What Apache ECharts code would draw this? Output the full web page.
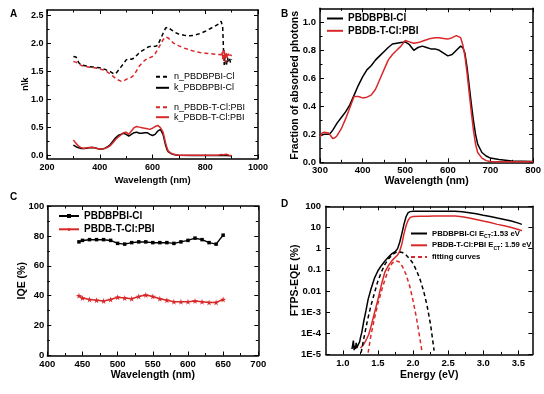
<!DOCTYPE html>
<html><head><meta charset="utf-8">
<script src="https://cdn.jsdelivr.net/npm/echarts@6/dist/echarts.min.js"></script>
<style>html,body{margin:0;padding:0;background:#fff}#c{width:544px;height:394px}</style>
</head><body><div id="c"></div>
<script>
// ---------- Panel A : n / k ----------
const aNBlkX = [300,305,310,315,320,325,330,340,360,380,400,420,440,450,460,465,470,480,490,500,510,520,530,540,550,560,570,580,590,600,610,620,630,640,650,655,660,670,680,690,700,720,740,760,780,800,820,840,850,860,864,866,868,870,872,874,876,878,880,884,888,892,896,900];
const aNBlkY = [1.77,1.78,1.76,1.72,1.66,1.63,1.62,1.61,1.59,1.58,1.57,1.54,1.50,1.47,1.46,1.48,1.52,1.58,1.64,1.71,1.73,1.72,1.74,1.79,1.84,1.87,1.90,1.93,1.95,1.96,1.95,1.97,2.08,2.18,2.28,2.30,2.29,2.25,2.22,2.19,2.17,2.15,2.14,2.15,2.18,2.22,2.27,2.32,2.35,2.40,2.43,2.30,2.05,1.80,1.62,1.75,1.65,1.72,1.60,1.75,1.68,1.73,1.66,1.72];
const aNRedX = [300,310,320,330,340,360,380,400,420,440,450,460,470,480,490,500,510,520,530,540,550,560,570,580,590,600,610,620,630,640,650,660,670,680,700,720,740,760,780,800,820,840,860,864,866,868,870,872,874,876,878,880,884,888,892,896,900];
const aNRedY = [1.68,1.67,1.64,1.61,1.60,1.58,1.57,1.55,1.52,1.46,1.42,1.38,1.35,1.33,1.33,1.36,1.39,1.40,1.44,1.52,1.60,1.65,1.70,1.73,1.75,1.77,1.82,1.90,1.98,2.07,2.12,2.10,2.05,2.01,1.96,1.92,1.89,1.86,1.84,1.83,1.82,1.81,1.80,1.86,1.72,1.88,1.68,1.90,1.74,1.84,1.66,1.85,1.74,1.82,1.76,1.80,1.78];
const aKBlkX = [300,310,320,330,340,350,360,370,380,390,400,410,420,430,440,450,460,470,480,490,495,500,510,520,530,540,550,560,570,580,590,600,610,620,630,635,640,645,650,655,660,670,680,690,700,750,800,850,870,880,900];
const aKBlkY = [0.19,0.16,0.14,0.13,0.13,0.135,0.14,0.145,0.14,0.13,0.12,0.12,0.135,0.16,0.20,0.26,0.32,0.36,0.38,0.40,0.41,0.38,0.35,0.38,0.41,0.42,0.40,0.40,0.41,0.41,0.38,0.36,0.38,0.44,0.47,0.45,0.38,0.28,0.18,0.11,0.07,0.04,0.02,0.012,0.008,0.005,0.004,0.003,0.01,0.002,0.001];
const aKRedX = [300,310,320,330,340,350,360,370,380,390,400,410,420,430,440,450,460,470,480,490,495,500,510,520,530,540,550,560,570,580,590,600,610,620,625,630,640,645,650,655,660,670,680,690,700,750,800,850,860,865,870,880,890,900];
const aKRedY = [0.28,0.22,0.17,0.14,0.13,0.14,0.145,0.15,0.14,0.13,0.12,0.12,0.13,0.15,0.18,0.23,0.29,0.33,0.37,0.41,0.43,0.42,0.38,0.44,0.50,0.52,0.51,0.50,0.49,0.48,0.47,0.49,0.52,0.54,0.53,0.50,0.42,0.32,0.22,0.14,0.08,0.045,0.025,0.015,0.01,0.008,0.007,0.01,0.02,0.03,0.015,0.025,0.01,0.005];
const aXTicks = [200,400,600,800,1000];
const aXMinor = [300,500,700,900];
const aYTicks = [0,0.5,1.0,1.5,2.0,2.5];
const aYMinor = [0.25,0.75,1.25,1.75,2.25];

// ---------- Panel B : absorbed photons ----------
const bBlkX = [300,310,320,325,330,340,350,360,370,380,390,400,410,420,430,440,450,460,470,480,490,500,510,520,530,540,550,560,570,580,590,600,610,620,630,635,640,645,650,655,660,665,670,680,690,700,720,750,800];
const bBlkY = [0.19,0.20,0.20,0.21,0.23,0.28,0.32,0.36,0.41,0.48,0.55,0.61,0.66,0.69,0.73,0.76,0.79,0.82,0.845,0.85,0.855,0.86,0.84,0.80,0.82,0.83,0.82,0.81,0.81,0.80,0.78,0.76,0.77,0.80,0.83,0.82,0.78,0.68,0.55,0.42,0.30,0.20,0.13,0.07,0.045,0.03,0.02,0.01,0.005];
const bRedX = [300,305,310,320,325,330,335,340,350,360,370,380,390,400,410,420,430,440,450,460,470,480,490,500,510,520,530,540,550,560,570,580,590,600,610,620,630,635,640,645,650,655,660,665,670,680,690,700,720,750,800];
const bRedY = [0.18,0.21,0.215,0.21,0.19,0.17,0.175,0.19,0.24,0.31,0.39,0.47,0.47,0.46,0.465,0.48,0.52,0.59,0.66,0.73,0.77,0.80,0.83,0.87,0.86,0.85,0.855,0.865,0.875,0.885,0.89,0.89,0.885,0.88,0.89,0.905,0.89,0.84,0.76,0.64,0.50,0.36,0.23,0.13,0.07,0.03,0.012,0.006,0.004,0.004,0.004];
const bXTicks = [300,400,500,600,700,800];
const bXMinor = [350,450,550,650,750];
const bYTicks = [0,0.2,0.4,0.6,0.8,1.0];
const bYMinor = [0.1,0.3,0.5,0.7,0.9];

// ---------- Panel C : IQE ----------
const cX = [445,450,460,470,480,490,500,510,520,530,540,550,560,570,580,590,600,610,620,630,640,650];
const cBlk = [76,77,77.5,77.5,77.5,77,75,74.5,75.5,76,76,75.5,75.5,75.5,75,76,77,78.5,77.5,75.5,74.5,80.5];
const cRed = [40,38.5,37.5,37,36.5,37.5,39,38.5,38,39.5,40.5,39.5,38,37,36,36,36,36.5,36,35.5,35.5,37.5];
const cXTicks = [400,450,500,550,600,650,700];
const cXMinor = [425,475,525,575,625,675];
const cYTicks = [0,20,40,60,80,100];
const cYMinor = [10,30,50,70,90];

// ---------- Panel D : FTPS-EQE ----------
const dBlkX = [1.13,1.14,1.15,1.16,1.17,1.18,1.19,1.20,1.21,1.22,1.23,1.24,1.25,1.27,1.30,1.33,1.36,1.40,1.45,1.50,1.55,1.60,1.65,1.70,1.75,1.78,1.81,1.84,1.87,1.90,1.93,1.96,2.0,2.1,2.2,2.3,2.4,2.5,2.6,2.7,2.8,2.9,3.0,3.1,3.2,3.3,3.4,3.5,3.55];
const dBlkY = [1.8e-5,1.8e-5,4.5e-5,1.6e-5,2.5e-5,1.8e-5,3.5e-5,2e-5,2.5e-5,3e-5,2.8e-5,4e-5,6e-5,1.1e-4,4e-4,1.2e-3,4e-3,0.012,0.04,0.09,0.16,0.26,0.4,0.58,0.75,1.0,2.0,5,14,32,50,56,58,59,59,59,59,59,58,55,50,44,38,33,28,24,20,16,14];
const dRedX = [1.25,1.28,1.31,1.34,1.37,1.40,1.43,1.46,1.50,1.55,1.60,1.65,1.70,1.75,1.78,1.81,1.84,1.87,1.90,1.93,1.96,2.0,2.1,2.2,2.3,2.4,2.5,2.6,2.7,2.8,2.9,3.0,3.1,3.2,3.3,3.4,3.5,3.55];
const dRedY = [2e-5,2.5e-5,3.5e-5,5.5e-5,9e-5,2e-4,5e-4,1.2e-3,4e-3,0.02,0.08,0.16,0.27,0.4,0.5,0.75,1.6,5,12,22,30,33,34,34,35,35,35,35,32,28,24,20,17,14,12,10,8,7];
const dFitBX = [1.26,1.30,1.35,1.40,1.45,1.50,1.55,1.60,1.65,1.70,1.75,1.80,1.85,1.90,1.95,2.00,2.05,2.10,2.15,2.20,2.25,2.30];
const dFitBY = [1.2e-5,6e-5,4e-4,2e-3,8e-3,0.03,0.08,0.18,0.32,0.5,0.65,0.7,0.65,0.5,0.33,0.2,0.09,0.035,0.01,2e-3,2.5e-4,1.5e-5];
const dFitRX = [1.36,1.40,1.45,1.50,1.55,1.60,1.65,1.70,1.75,1.80,1.85,1.90,1.95,2.00,2.05,2.10,2.13];
const dFitRY = [1.2e-5,8e-5,5e-4,2.5e-3,0.01,0.035,0.1,0.2,0.27,0.24,0.14,0.06,0.018,3.5e-3,5e-4,5e-5,1.2e-5];
const dXTicks = [1.0,1.5,2.0,2.5,3.0,3.5];
const dXMinor = [1.25,1.75,2.25,2.75,3.25];
const dYLabels = {'-5':'1E-5','-4':'1E-4','-3':'1E-3','-2':'0.01','-1':'0.1','0':'1','1':'10','2':'100'};

// ---------- helpers ----------
const FONT = '"Liberation Sans", Arial, Helvetica, sans-serif';
const RED = '#d8282a';
const BLK = '#000000';
const zip = (xs, ys) => xs.map((x, i) => [x, ys[i]]);
const STAR = 'path://M50,0 L61,35 L98,35 L68,57 L79,91 L50,70 L21,91 L32,57 L2,35 L39,35 Z';

const grids = [
  {left: 47, top: 10, width: 211, height: 148.5},
  {left: 320, top: 8.3, width: 213.5, height: 154},
  {left: 47.3, top: 206, width: 211, height: 149.5},
  {left: 326, top: 206.3, width: 206.4, height: 148.1}
];

const xAxes = [], yAxes = [];
function addAxes(list, gi, isX, s) {
  const mainPos = isX ? 'bottom' : 'left', mirPos = isX ? 'top' : 'right';
  const base = {gridIndex: gi, type: s.type || 'value', min: s.min, max: s.max, splitLine: {show: false}, minorSplitLine: {show: false}};
  if (s.type === 'log') { base.logBase = 10; base.splitNumber = 7; }
  const lineOn = {show: true, onZero: false, lineStyle: {color: BLK, width: 1.5}};
  const lineOff = {show: false, onZero: false};
  const tick = (len, vals) => { const t = {show: true, inside: true, length: len, lineStyle: {color: BLK, width: 1}}; if (vals) t.customValues = vals; return t; };
  const idx = list.length;
  const lab = {show: true, color: BLK, fontSize: s.fs, fontWeight: 'bold', fontFamily: FONT, margin: s.margin};
  if (s.major) lab.customValues = s.major;
  if (s.fmt) lab.formatter = s.fmt;
  list.push(Object.assign({}, base, {
    position: mainPos, name: s.name, nameLocation: 'middle', nameGap: s.nameGap, nameMoveOverlap: false,
    nameTextStyle: {color: BLK, fontSize: s.nfs, fontWeight: 'bold', fontFamily: FONT},
    axisLine: lineOn, axisTick: tick(4, s.major), axisLabel: lab
  }));
  if (s.minor) list.push(Object.assign({}, base, {position: mainPos, axisLine: lineOff, axisTick: tick(2.5, s.minor), axisLabel: {show: false}}));
  list.push(Object.assign({}, base, {position: mirPos, axisLine: lineOn, axisTick: tick(4, s.major), axisLabel: {show: false}}));
  if (s.minor) list.push(Object.assign({}, base, {position: mirPos, axisLine: lineOff, axisTick: tick(2.5, s.minor), axisLabel: {show: false}}));
  return idx;
}

const fmt1 = v => v.toFixed(1);
const fmt0 = v => String(v);
const AX = addAxes(xAxes, 0, true, {min: 200, max: 1000, major: aXTicks, minor: aXMinor, fs: 9, margin: 5, fmt: fmt0, name: 'Wavelength (nm)', nameGap: 17, nfs: 9.5});
const AY = addAxes(yAxes, 0, false, {min: -0.05, max: 2.6, major: aYTicks, minor: aYMinor, fs: 9, margin: 3.5, fmt: fmt1, name: 'n\\k', nameGap: 17, nfs: 9.5});
const BX = addAxes(xAxes, 1, true, {min: 300, max: 800, major: bXTicks, minor: bXMinor, fs: 9.5, margin: 3, fmt: fmt0, name: 'Wavelength (nm)', nameGap: 13.5, nfs: 10.5});
const BY = addAxes(yAxes, 1, false, {min: 0, max: 1.1, major: bYTicks, minor: bYMinor, fs: 9.5, margin: 4, fmt: fmt1, name: 'Fraction of absorbed photons', nameGap: 19.5, nfs: 10.5});
const CX = addAxes(xAxes, 2, true, {min: 400, max: 700, major: cXTicks, minor: cXMinor, fs: 9.5, margin: 3.5, fmt: fmt0, name: 'Wavelength (nm)', nameGap: 14, nfs: 10.5});
const CY = addAxes(yAxes, 2, false, {min: 0, max: 100, major: cYTicks, minor: cYMinor, fs: 9.5, margin: 3, fmt: fmt0, name: 'IQE (%)', nameGap: 20, nfs: 10.5});
const DX = addAxes(xAxes, 3, true, {min: 0.76, max: 3.7, major: dXTicks, minor: dXMinor, fs: 9.5, margin: 4, fmt: fmt1, name: 'Energy (eV)', nameGap: 15, nfs: 10.5});
const DY = addAxes(yAxes, 3, false, {type: 'log', min: 1e-5, max: 100, fs: 9.5, margin: 5, fmt: v => dYLabels[String(Math.round(Math.log10(v)))] || '', name: 'FTPS-EQE (%)', nameGap: 25, nfs: 10.5});

function line(name, xi, yi, data, color, dashed, extra) {
  return Object.assign({
    type: 'line', name: name, xAxisIndex: xi, yAxisIndex: yi, data: data,
    symbol: 'none', showSymbol: false, smooth: false, animation: false, clip: true,
    lineStyle: {color: color, width: 1.5, type: dashed ? [4, 3] : 'solid'},
    itemStyle: {color: color}
  }, extra || {});
}

const D1 = 'PBDBPBI-Cl ECT:1.53 eV', D2 = 'PBDB-T-Cl:PBI ECT: 1.59 eV';
const dLegendRich = {
  [D1]: '{t|PBDBPBI-Cl E}{s|CT}{t|:1.53 eV}',
  [D2]: '{t|PBDB-T-Cl:PBI E}{s|CT}{t|: 1.59 eV}',
  'fitting curves': '{t|fitting curves}'
};

const series = [
  line('n_PBDBPBI-Cl', AX, AY, zip(aNBlkX, aNBlkY), BLK, true),
  line('k_PBDBPBI-Cl', AX, AY, zip(aKBlkX, aKBlkY), BLK, false),
  line('n_PBDB-T-Cl:PBI', AX, AY, zip(aNRedX, aNRedY), RED, true),
  line('k_PBDB-T-Cl:PBI', AX, AY, zip(aKRedX, aKRedY), RED, false),
  line('PBDBPBI-Cl', BX, BY, zip(bBlkX, bBlkY), BLK, false),
  line('PBDB-T-Cl:PBI', BX, BY, zip(bRedX, bRedY), RED, false),
  line('PBDBPBI-Cl ', CX, CY, zip(cX, cBlk), BLK, false, {symbol: 'rect', showSymbol: true, symbolSize: 3.5}),
  line('PBDB-T-Cl:PBI ', CX, CY, zip(cX, cRed), RED, false, {symbol: STAR, showSymbol: true, symbolSize: 6}),
  line(D1, DX, DY, zip(dBlkX, dBlkY), BLK, false),
  line(D2, DX, DY, zip(dRedX, dRedY), RED, false),
  line('fit black', DX, DY, zip(dFitBX, dFitBY), BLK, true),
  line('fitting curves', DX, DY, zip(dFitRX, dFitRY), RED, true)
];

const legBase = {orient: 'vertical', selectedMode: false, padding: 0, inactiveColor: '#000'};
const noSym = {itemStyle: {opacity: 0, borderWidth: 0}};
const legends = [
  Object.assign({}, legBase, noSym, {data: ['n_PBDBPBI-Cl', 'k_PBDBPBI-Cl'], left: 155, top: 72.3, itemWidth: 13, itemHeight: 10, itemGap: 2,
    textStyle: {fontSize: 9, fontFamily: FONT, color: BLK}}),
  Object.assign({}, legBase, noSym, {data: ['n_PBDB-T-Cl:PBI', 'k_PBDB-T-Cl:PBI'], left: 155, top: 102.7, itemWidth: 13, itemHeight: 9, itemGap: 1,
    textStyle: {fontSize: 9, fontFamily: FONT, color: BLK}}),
  Object.assign({}, legBase, noSym, {data: ['PBDBPBI-Cl', 'PBDB-T-Cl:PBI'], left: 326, top: 13.5, itemWidth: 16, itemHeight: 11, itemGap: 2.3,
    textStyle: {fontSize: 10, fontWeight: 'bold', fontFamily: FONT, color: BLK}}),
  Object.assign({}, legBase, {data: ['PBDBPBI-Cl ', 'PBDB-T-Cl:PBI '], left: 58, top: 210, itemWidth: 20, itemHeight: 5, itemGap: 1.3,
    textStyle: {fontSize: 10, lineHeight: 12, fontWeight: 'bold', fontFamily: FONT, color: BLK}, formatter: n => n.trim()}),
  Object.assign({}, legBase, noSym, {data: [D1, D2, 'fitting curves'], left: 410, top: 229.5, itemWidth: 16, itemHeight: 10, itemGap: 2.3,
    formatter: n => dLegendRich[n],
    textStyle: {fontFamily: FONT, color: BLK, rich: {
      t: {fontSize: 7.7, fontWeight: 'bold', fontFamily: FONT, color: BLK, lineHeight: 11},
      s: {fontSize: 5, fontWeight: 'bold', fontFamily: FONT, color: BLK, lineHeight: 11, verticalAlign: 'bottom', padding: [3, 0, 0, 0]}
    }}})
];

const letter = (t, x, y) => ({type: 'text', left: x, top: y, style: {text: t, fontSize: 10, fontWeight: 'bold', fontFamily: FONT, fill: BLK}});

const chart = echarts.init(document.getElementById('c'), null, {renderer: 'canvas'});
chart.setOption({
  backgroundColor: '#ffffff',
  animation: false,
  grid: grids,
  xAxis: xAxes,
  yAxis: yAxes,
  legend: legends,
  series: series,
  graphic: [letter('A', 10, 9), letter('B', 281, 9), letter('C', 10, 192), letter('D', 281, 199)]
});
</script></body></html>
